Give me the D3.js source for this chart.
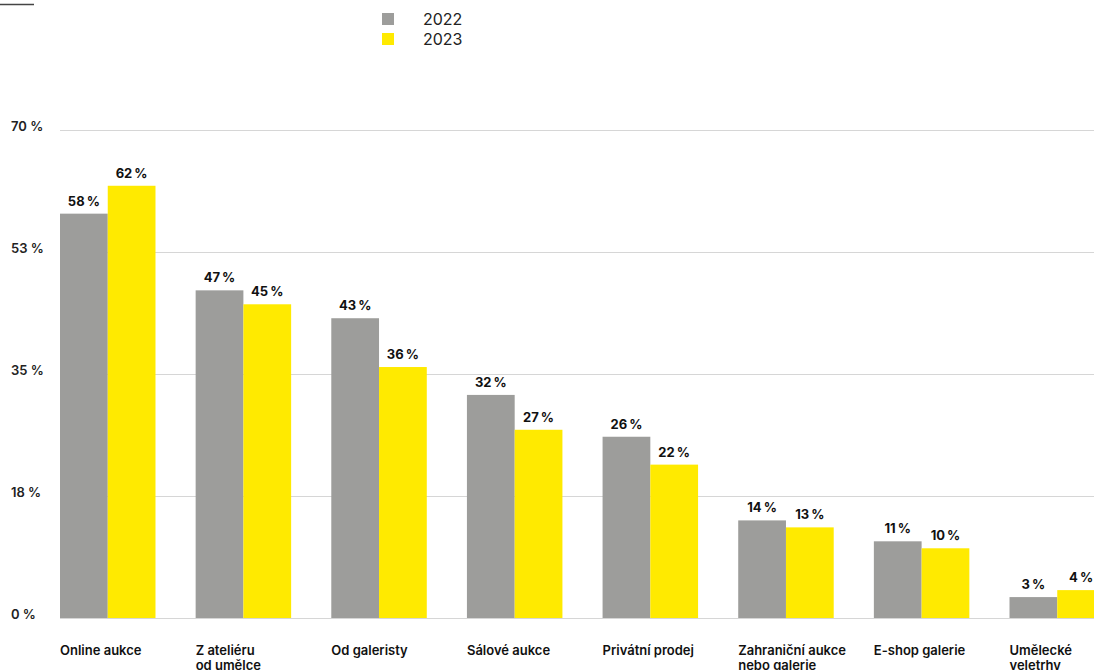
<!DOCTYPE html>
<html>
<head>
<meta charset="utf-8">
<script src="https://cdn.jsdelivr.net/npm/d3@7"></script>
<style>
  body { margin: 0; background: #fff; }
  svg { display: block; font-family: Inter, "Liberation Sans", sans-serif; }
</style>
</head>
<body>
<script>
const categories = [
  ["Online aukce"],
  ["Z ateliéru", "od umělce"],
  ["Od galeristy"],
  ["Sálové aukce"],
  ["Privátní prodej"],
  ["Zahraniční aukce", "nebo galerie"],
  ["E-shop galerie"],
  ["Umělecké", "veletrhy"]
];
const years = ["2022", "2023"];
const values2022 = [58, 47, 43, 32, 26, 14, 11, 3];
const values2023 = [62, 45, 36, 27, 22, 13, 10, 4];
const yTicks = [0, 17.5, 35, 52.5, 70];
const colors = {"2022": "#9d9d9b", "2023": "#ffea00"};

const width = 1094;
const height = 670;

const svg = d3.select("body")
    .append("svg")
    .attr("width", width)
    .attr("height", height);

const keys = categories.map((d, i) => i);
const rows = keys.map(i => ({ key: i, label: categories[i], "2022": values2022[i], "2023": values2023[i] }));

const x = d3.scaleBand()
    .domain(keys)
    .range([60, 1105])
    .paddingInner(0.296)
    .paddingOuter(0);

const x1 = d3.scaleBand()
    .domain(years)
    .range([0, x.bandwidth()]);

const y = d3.scaleLinear()
    .domain([0, 70])
    .range([618, 130]);

// small rule top-left
svg.append("line")
    .attr("x1", 0).attr("x2", 34)
    .attr("y1", 4.5).attr("y2", 4.5)
    .attr("stroke", "#444")
    .attr("stroke-width", 1.5);

// gridlines
svg.append("g")
    .selectAll("line")
    .data(yTicks)
    .join("line")
    .attr("x1", 60)
    .attr("x2", width)
    .attr("y1", d => Math.round(y(d)) + 0.5)
    .attr("y2", d => Math.round(y(d)) + 0.5)
    .attr("stroke", "#d6d6d6")
    .attr("stroke-width", 1);

// y tick labels
svg.append("g")
    .selectAll("text")
    .data(yTicks)
    .join("text")
    .attr("x", 11)
    .attr("y", d => y(d) + 1)
    .attr("font-size", 13)
    .attr("font-weight", 600)
    .attr("fill", "#222")
    .text(d => Math.round(d) + " %");

// bars
const group = svg.append("g")
    .selectAll("g")
    .data(rows)
    .join("g")
    .attr("transform", d => `translate(${x(d.key)},0)`);

group.selectAll("rect")
    .data(d => years.map(k => ({ year: k, value: d[k] })))
    .join("rect")
    .attr("x", d => x1(d.year))
    .attr("y", d => y(d.value))
    .attr("width", x1.bandwidth())
    .attr("height", d => y(0) - y(d.value))
    .attr("fill", d => colors[d.year]);

group.selectAll("text.val")
    .data(d => years.map(k => ({ year: k, value: d[k] })))
    .join("text")
    .attr("class", "val")
    .attr("x", d => x1(d.year) + x1.bandwidth() / 2)
    .attr("y", d => y(d.value) - 8)
    .attr("text-anchor", "middle")
    .attr("font-size", 13)
    .attr("font-weight", 700)
    .attr("fill", "#111")
    .text(d => d.value + "\u2009%");

// category labels
group.append("text")
    .attr("x", 0)
    .attr("y", 655)
    .attr("font-size", 13)
    .attr("font-weight", 600)
    .attr("fill", "#111")
    .selectAll("tspan")
    .data(d => d.label)
    .join("tspan")
    .attr("x", 0)
    .attr("dy", (d, i) => i === 0 ? 0 : 15)
    .text(d => d);

// legend
const legend = svg.append("g")
    .selectAll("g")
    .data(years)
    .join("g")
    .attr("transform", (d, i) => `translate(382,${13 + i * 20})`);

legend.append("rect")
    .attr("width", 12)
    .attr("height", 12)
    .attr("fill", d => colors[d]);

legend.append("text")
    .attr("x", 41)
    .attr("y", 12)
    .attr("font-size", 16)
    .attr("fill", "#222")
    .text(d => d);
</script>
</body>
</html>
